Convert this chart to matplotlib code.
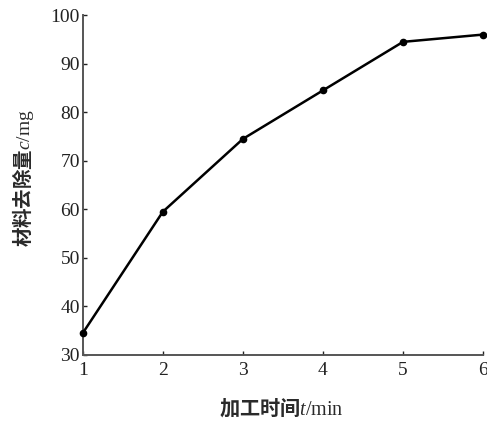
import matplotlib.pyplot as plt

plt.rcParams['font.family'] = ['Liberation Serif', 'Noto Sans CJK SC']
plt.rcParams['mathtext.fontset'] = 'custom'
plt.rcParams['mathtext.it'] = 'Liberation Serif:italic'
plt.rcParams['mathtext.rm'] = 'Liberation Serif'

# data
t_min = [1, 2, 3, 4, 5, 6]
removal_mg = [34.5, 59.5, 74.5, 84.5, 94.5, 96.0]
x_ticks = [1, 2, 3, 4, 5, 6]
y_ticks = [30, 40, 50, 60, 70, 80, 90, 100]

fig = plt.figure(figsize=(4.87, 4.21), dpi=100)
ax = fig.add_axes([0.170, 0.157, 0.822, 0.807])

ax.plot(t_min, removal_mg, color='black', lw=1.8, marker='o', ms=4.5,
        clip_on=False, zorder=3)

ax.set_xlim(1, 6)
ax.set_ylim(30, 100)
ax.set_xticks(x_ticks)
ax.set_yticks(y_ticks)
ax.tick_params(direction='in', length=3, width=1, labelsize=14, colors='#222222')
ax.tick_params(axis='y', pad=2)
ax.tick_params(axis='x', pad=5)

for side in ['top', 'right']:
    ax.spines[side].set_visible(False)
for side in ['left', 'bottom']:
    ax.spines[side].set_linewidth(1.4)
    ax.spines[side].set_color('#555555')

# axis titles: CJK in the text font, italic letter and units through mathtext
fig.text(0.578, 0.031, r'加工时间$t/\mathrm{min}$', family='Noto Sans CJK SC',
         weight='bold', fontsize=14.5, ha='center', va='center', color='#2a2a2a')
fig.text(0.047, 0.577, r'材料去除量$c/\mathrm{mg}$', family='Noto Sans CJK SC',
         weight='bold', fontsize=14, rotation=90, ha='center', va='center',
         color='#2a2a2a')

fig.savefig('out.png', dpi=100)
